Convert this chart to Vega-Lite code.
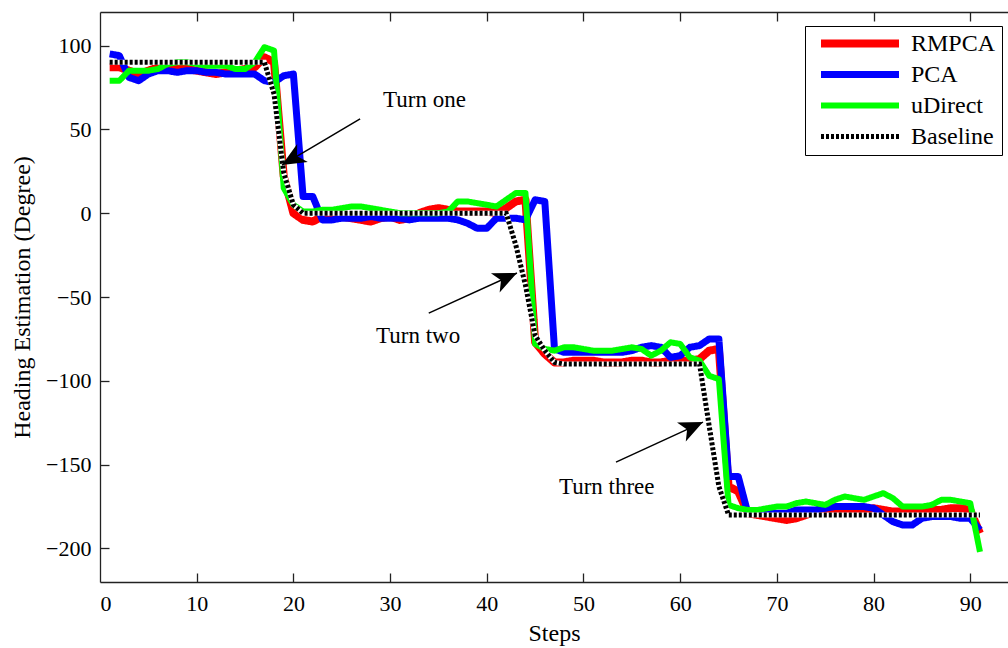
{
  "$schema": "https://vega.github.io/schema/vega-lite/v6.json",
  "width": 908,
  "height": 570,
  "autosize": {"type": "none"},
  "padding": {"left": 100, "top": 12, "right": 0, "bottom": 66},
  "background": "white",
  "config": {
    "view": {"stroke": null},
    "font": "Liberation Serif",
    "axis": {
      "domainColor": "#222222", "domainWidth": 1.3, "tickColor": "#222222", "tickWidth": 1.3,
      "labelColor": "black", "labelFont": "Liberation Serif", "labelFontSize": 22,
      "titleColor": "black", "titleFont": "Liberation Serif", "titleFontSize": 24, "titleFontWeight": "normal",
      "grid": false
    },
    "legend": {
      "labelFont": "Liberation Serif", "labelFontSize": 24, "labelColor": "black"
    }
  },
  "datasets": {
    "series": [
      {"step": 1, "RMPCA": 87, "PCA": 95, "uDirect": 79, "Baseline": 90},
      {"step": 2, "RMPCA": 87, "PCA": 94, "uDirect": 79, "Baseline": 90},
      {"step": 3, "RMPCA": 85, "PCA": 81, "uDirect": 85, "Baseline": 90},
      {"step": 4, "RMPCA": 83, "PCA": 79, "uDirect": 85, "Baseline": 90},
      {"step": 5, "RMPCA": 85, "PCA": 83, "uDirect": 85, "Baseline": 90},
      {"step": 6, "RMPCA": 87, "PCA": 85, "uDirect": 86, "Baseline": 90},
      {"step": 7, "RMPCA": 87, "PCA": 85, "uDirect": 89, "Baseline": 90},
      {"step": 8, "RMPCA": 86, "PCA": 84, "uDirect": 90, "Baseline": 90},
      {"step": 9, "RMPCA": 86, "PCA": 85, "uDirect": 90, "Baseline": 90},
      {"step": 10, "RMPCA": 85, "PCA": 85, "uDirect": 89, "Baseline": 90},
      {"step": 11, "RMPCA": 84, "PCA": 84, "uDirect": 88, "Baseline": 90},
      {"step": 12, "RMPCA": 83, "PCA": 84, "uDirect": 88, "Baseline": 90},
      {"step": 13, "RMPCA": 84, "PCA": 83, "uDirect": 88, "Baseline": 90},
      {"step": 14, "RMPCA": 85, "PCA": 83, "uDirect": 86, "Baseline": 90},
      {"step": 15, "RMPCA": 86, "PCA": 83, "uDirect": 86, "Baseline": 90},
      {"step": 16, "RMPCA": 87, "PCA": 83, "uDirect": 90, "Baseline": 90},
      {"step": 17, "RMPCA": 93, "PCA": 79, "uDirect": 99, "Baseline": 90},
      {"step": 18, "RMPCA": 90, "PCA": 78, "uDirect": 97, "Baseline": 71},
      {"step": 19, "RMPCA": 22, "PCA": 82, "uDirect": 15, "Baseline": 24},
      {"step": 20, "RMPCA": 0, "PCA": 83, "uDirect": 5, "Baseline": 5},
      {"step": 21, "RMPCA": -4, "PCA": 10, "uDirect": 1, "Baseline": 0},
      {"step": 22, "RMPCA": -5, "PCA": 10, "uDirect": 1, "Baseline": 0},
      {"step": 23, "RMPCA": -2, "PCA": -4, "uDirect": 2, "Baseline": 0},
      {"step": 24, "RMPCA": -2, "PCA": -4, "uDirect": 2, "Baseline": 0},
      {"step": 25, "RMPCA": -2, "PCA": -3, "uDirect": 3, "Baseline": 0},
      {"step": 26, "RMPCA": -3, "PCA": -3, "uDirect": 4, "Baseline": 0},
      {"step": 27, "RMPCA": -4, "PCA": -3, "uDirect": 4, "Baseline": 0},
      {"step": 28, "RMPCA": -5, "PCA": -2, "uDirect": 3, "Baseline": 0},
      {"step": 29, "RMPCA": -3, "PCA": -3, "uDirect": 2, "Baseline": 0},
      {"step": 30, "RMPCA": -2, "PCA": -3, "uDirect": 1, "Baseline": 0},
      {"step": 31, "RMPCA": -4, "PCA": -3, "uDirect": 0, "Baseline": 0},
      {"step": 32, "RMPCA": -3, "PCA": -4, "uDirect": 0, "Baseline": 0},
      {"step": 33, "RMPCA": 0, "PCA": -3, "uDirect": 0, "Baseline": 0},
      {"step": 34, "RMPCA": 2, "PCA": -3, "uDirect": 0, "Baseline": 0},
      {"step": 35, "RMPCA": 3, "PCA": -3, "uDirect": 0, "Baseline": 0},
      {"step": 36, "RMPCA": 2, "PCA": -3, "uDirect": 1, "Baseline": 0},
      {"step": 37, "RMPCA": 1, "PCA": -4, "uDirect": 7, "Baseline": 0},
      {"step": 38, "RMPCA": 1, "PCA": -6, "uDirect": 7, "Baseline": 0},
      {"step": 39, "RMPCA": 1, "PCA": -9, "uDirect": 6, "Baseline": 0},
      {"step": 40, "RMPCA": 1, "PCA": -9, "uDirect": 5, "Baseline": 0},
      {"step": 41, "RMPCA": 0, "PCA": -3, "uDirect": 4, "Baseline": 0},
      {"step": 42, "RMPCA": 3, "PCA": -3, "uDirect": 8, "Baseline": 0},
      {"step": 43, "RMPCA": 7, "PCA": -3, "uDirect": 12, "Baseline": -19},
      {"step": 44, "RMPCA": 8, "PCA": -4, "uDirect": 12, "Baseline": -43},
      {"step": 45, "RMPCA": -77, "PCA": 8, "uDirect": -78, "Baseline": -73},
      {"step": 46, "RMPCA": -84, "PCA": 7, "uDirect": -81, "Baseline": -82},
      {"step": 47, "RMPCA": -89, "PCA": -81, "uDirect": -82, "Baseline": -89},
      {"step": 48, "RMPCA": -89, "PCA": -83, "uDirect": -80, "Baseline": -90},
      {"step": 49, "RMPCA": -88, "PCA": -83, "uDirect": -80, "Baseline": -90},
      {"step": 50, "RMPCA": -88, "PCA": -83, "uDirect": -81, "Baseline": -90},
      {"step": 51, "RMPCA": -88, "PCA": -83, "uDirect": -82, "Baseline": -90},
      {"step": 52, "RMPCA": -89, "PCA": -83, "uDirect": -82, "Baseline": -90},
      {"step": 53, "RMPCA": -89, "PCA": -83, "uDirect": -82, "Baseline": -90},
      {"step": 54, "RMPCA": -89, "PCA": -83, "uDirect": -81, "Baseline": -90},
      {"step": 55, "RMPCA": -88, "PCA": -82, "uDirect": -80, "Baseline": -90},
      {"step": 56, "RMPCA": -88, "PCA": -80, "uDirect": -81, "Baseline": -90},
      {"step": 57, "RMPCA": -89, "PCA": -79, "uDirect": -85, "Baseline": -90},
      {"step": 58, "RMPCA": -89, "PCA": -80, "uDirect": -82, "Baseline": -90},
      {"step": 59, "RMPCA": -88, "PCA": -86, "uDirect": -77, "Baseline": -90},
      {"step": 60, "RMPCA": -88, "PCA": -85, "uDirect": -78, "Baseline": -90},
      {"step": 61, "RMPCA": -88, "PCA": -80, "uDirect": -86, "Baseline": -90},
      {"step": 62, "RMPCA": -87, "PCA": -79, "uDirect": -88, "Baseline": -90},
      {"step": 63, "RMPCA": -82, "PCA": -75, "uDirect": -97, "Baseline": -127},
      {"step": 64, "RMPCA": -81, "PCA": -75, "uDirect": -99, "Baseline": -163},
      {"step": 65, "RMPCA": -163, "PCA": -157, "uDirect": -174, "Baseline": -180},
      {"step": 66, "RMPCA": -166, "PCA": -157, "uDirect": -176, "Baseline": -180},
      {"step": 67, "RMPCA": -179, "PCA": -179, "uDirect": -177, "Baseline": -180},
      {"step": 68, "RMPCA": -180, "PCA": -179, "uDirect": -177, "Baseline": -180},
      {"step": 69, "RMPCA": -181, "PCA": -179, "uDirect": -176, "Baseline": -180},
      {"step": 70, "RMPCA": -182, "PCA": -179, "uDirect": -175, "Baseline": -180},
      {"step": 71, "RMPCA": -183, "PCA": -179, "uDirect": -175, "Baseline": -180},
      {"step": 72, "RMPCA": -182, "PCA": -177, "uDirect": -173, "Baseline": -180},
      {"step": 73, "RMPCA": -180, "PCA": -177, "uDirect": -172, "Baseline": -180},
      {"step": 74, "RMPCA": -178, "PCA": -177, "uDirect": -173, "Baseline": -180},
      {"step": 75, "RMPCA": -178, "PCA": -176, "uDirect": -174, "Baseline": -180},
      {"step": 76, "RMPCA": -178, "PCA": -175, "uDirect": -171, "Baseline": -180},
      {"step": 77, "RMPCA": -178, "PCA": -175, "uDirect": -169, "Baseline": -180},
      {"step": 78, "RMPCA": -177, "PCA": -175, "uDirect": -170, "Baseline": -180},
      {"step": 79, "RMPCA": -177, "PCA": -175, "uDirect": -171, "Baseline": -180},
      {"step": 80, "RMPCA": -176, "PCA": -176, "uDirect": -169, "Baseline": -180},
      {"step": 81, "RMPCA": -177, "PCA": -180, "uDirect": -167, "Baseline": -180},
      {"step": 82, "RMPCA": -178, "PCA": -184, "uDirect": -170, "Baseline": -180},
      {"step": 83, "RMPCA": -178, "PCA": -186, "uDirect": -175, "Baseline": -180},
      {"step": 84, "RMPCA": -178, "PCA": -186, "uDirect": -175, "Baseline": -180},
      {"step": 85, "RMPCA": -177, "PCA": -182, "uDirect": -175, "Baseline": -180},
      {"step": 86, "RMPCA": -177, "PCA": -181, "uDirect": -174, "Baseline": -180},
      {"step": 87, "RMPCA": -177, "PCA": -181, "uDirect": -171, "Baseline": -180},
      {"step": 88, "RMPCA": -176, "PCA": -181, "uDirect": -171, "Baseline": -180},
      {"step": 89, "RMPCA": -176, "PCA": -182, "uDirect": -172, "Baseline": -180},
      {"step": 90, "RMPCA": -177, "PCA": -182, "uDirect": -173, "Baseline": -180},
      {"step": 91, "RMPCA": -191, "PCA": -189, "uDirect": -202, "Baseline": -180}
    ],
    "arrows": [
      {"name": "one", "x": 26.9, "y": 56.2, "x2": 18.82, "y2": 28.7},
      {"name": "two", "x": 34.0, "y": -59.6, "x2": 43.12, "y2": -35.7},
      {"name": "three", "x": 53.36, "y": -148.5, "x2": 62.36, "y2": -124.6}
    ],
    "labels": [
      {"text": "Turn one", "x": 33.55, "y": 63.3},
      {"text": "Turn two", "x": 32.9, "y": -77.5},
      {"text": "Turn three", "x": 52.4, "y": -167.6}
    ]
  },
  "layer": [
    {
      "data": {"name": "series"},
      "transform": [
        {"fold": ["RMPCA", "PCA", "uDirect", "Baseline"], "as": ["series", "val"]},
        {"filter": "datum.series != 'Baseline'"}
      ],
      "mark": {"type": "line", "strokeCap": "butt", "strokeJoin": "round"},
      "encoding": {
        "x": {"field": "step", "type": "quantitative", "scale": {"domain": [0, 93.9], "nice": false, "zero": false},
          "axis": {"orient": "bottom", "title": "Steps", "values": [0, 10, 20, 30, 40, 50, 60, 70, 80, 90], "ticks": false, "labelPadding": 11, "titlePadding": 7}},
        "y": {"field": "val", "type": "quantitative", "scale": {"domain": [-220, 120], "nice": false, "zero": false},
          "axis": {"orient": "left", "title": "Heading Estimation (Degree)", "values": [-200, -150, -100, -50, 0, 50, 100], "ticks": false, "labelPadding": 9, "titlePadding": 11}},
        "order": {"field": "step"},
        "color": {"field": "series", "type": "nominal",
          "scale": {"domain": ["RMPCA", "PCA", "uDirect", "Baseline"], "range": ["#ff0000", "#0000ff", "#00ff00", "#000000"]},
          "legend": {"title": null, "orient": "none", "legendX": 705, "legendY": 14, "symbolType": "stroke", "symbolSize": 6084,
            "strokeColor": "black", "fillColor": "white", "padding": 6, "symbolOffset": 6, "labelOffset": 8, "rowPadding": 6, "clipHeight": 23}},
        "strokeDash": {"field": "series", "type": "nominal",
          "scale": {"domain": ["RMPCA", "PCA", "uDirect", "Baseline"], "range": [[1, 0], [1, 0], [1, 0], [3, 2]]},
          "legend": {"title": null, "orient": "none", "legendX": 705, "legendY": 14, "symbolType": "stroke", "symbolSize": 6084,
            "strokeColor": "black", "fillColor": "white", "padding": 6, "symbolOffset": 6, "labelOffset": 8, "rowPadding": 6, "clipHeight": 23}},
        "strokeWidth": {"field": "series", "type": "nominal",
          "scale": {"domain": ["RMPCA", "PCA", "uDirect", "Baseline"], "range": [8, 5, 5, 5]},
          "legend": {"title": null, "orient": "none", "legendX": 705, "legendY": 14, "symbolType": "stroke", "symbolSize": 6084,
            "strokeColor": "black", "fillColor": "white", "padding": 6, "symbolOffset": 6, "labelOffset": 8, "rowPadding": 6, "clipHeight": 23}}
      }
    },
    {
      "data": {"name": "series"},
      "mark": {"type": "line", "color": "white", "strokeWidth": 5, "strokeCap": "butt"},
      "encoding": {
        "x": {"field": "step", "type": "quantitative", "scale": {"domain": [0, 93.9], "nice": false, "zero": false},
          "axis": {"orient": "top", "offset": -570, "title": null, "labels": false, "domain": false, "ticks": true, "tickSize": 9, "values": [10, 20, 30, 40, 50, 60, 70, 80, 90]}},
        "y": {"field": "Baseline", "type": "quantitative", "scale": {"domain": [-220, 120], "nice": false, "zero": false},
          "axis": {"orient": "right", "offset": -908, "title": null, "labels": false, "domain": false, "ticks": true, "tickSize": 9, "values": [-200, -150, -100, -50, 0, 50, 100]}}
      }
    },
    {
      "data": {"name": "series"},
      "transform": [
        {"fold": ["Baseline"], "as": ["series", "val"]}
      ],
      "mark": {"type": "line", "strokeCap": "butt"},
      "encoding": {
        "x": {"field": "step", "type": "quantitative", "scale": {"domain": [0, 93.9], "nice": false, "zero": false},
          "axis": {"orient": "bottom", "offset": -570, "title": null, "labels": false, "domain": true, "ticks": true, "tickSize": 9, "values": [10, 20, 30, 40, 50, 60, 70, 80, 90]}},
        "y": {"field": "val", "type": "quantitative", "scale": {"domain": [-220, 120], "nice": false, "zero": false}, "axis": null},
        "color": {"field": "series", "type": "nominal"},
        "strokeDash": {"field": "series", "type": "nominal"},
        "strokeWidth": {"field": "series", "type": "nominal"}
      }
    },
    {
      "data": {"name": "arrows"},
      "mark": {"type": "rule", "color": "black", "strokeWidth": 1.5},
      "encoding": {
        "x": {"field": "x", "type": "quantitative", "scale": {"domain": [0, 93.9], "nice": false, "zero": false}, "axis": null},
        "y": {"field": "y", "type": "quantitative", "scale": {"domain": [-220, 120], "nice": false, "zero": false}, "axis": null},
        "x2": {"field": "x2"},
        "y2": {"field": "y2"}
      }
    },
    {
      "data": {"name": "arrows"},
      "transform": [{"filter": "datum.name == 'one'"}],
      "mark": {"type": "point", "shape": "M0,0L0.75,1.7L0,1.25L-0.75,1.7Z", "size": 784, "filled": true, "color": "black", "opacity": 1, "angle": 239.5},
      "encoding": {
        "x": {"field": "x2", "type": "quantitative", "scale": {"domain": [0, 93.9], "nice": false, "zero": false}, "axis": null},
        "y": {"field": "y2", "type": "quantitative", "scale": {"domain": [-220, 120], "nice": false, "zero": false}, "axis": null}
      }
    },
    {
      "data": {"name": "arrows"},
      "transform": [{"filter": "datum.name == 'two'"}],
      "mark": {"type": "point", "shape": "M0,0L0.75,1.7L0,1.25L-0.75,1.7Z", "size": 784, "filled": true, "color": "black", "opacity": 1, "angle": 65.6},
      "encoding": {
        "x": {"field": "x2", "type": "quantitative", "scale": {"domain": [0, 93.9], "nice": false, "zero": false}, "axis": null},
        "y": {"field": "y2", "type": "quantitative", "scale": {"domain": [-220, 120], "nice": false, "zero": false}, "axis": null}
      }
    },
    {
      "data": {"name": "arrows"},
      "transform": [{"filter": "datum.name == 'three'"}],
      "mark": {"type": "point", "shape": "M0,0L0.75,1.7L0,1.25L-0.75,1.7Z", "size": 784, "filled": true, "color": "black", "opacity": 1, "angle": 65.3},
      "encoding": {
        "x": {"field": "x2", "type": "quantitative", "scale": {"domain": [0, 93.9], "nice": false, "zero": false}, "axis": null},
        "y": {"field": "y2", "type": "quantitative", "scale": {"domain": [-220, 120], "nice": false, "zero": false}, "axis": null}
      }
    },
    {
      "data": {"name": "labels"},
      "mark": {"type": "text", "font": "Liberation Serif", "fontSize": 23, "color": "black", "align": "center", "baseline": "alphabetic"},
      "encoding": {
        "x": {"field": "x", "type": "quantitative", "scale": {"domain": [0, 93.9], "nice": false, "zero": false}, "axis": null},
        "y": {"field": "y", "type": "quantitative", "scale": {"domain": [-220, 120], "nice": false, "zero": false}, "axis": null},
        "text": {"field": "text"}
      }
    }
  ]
}
